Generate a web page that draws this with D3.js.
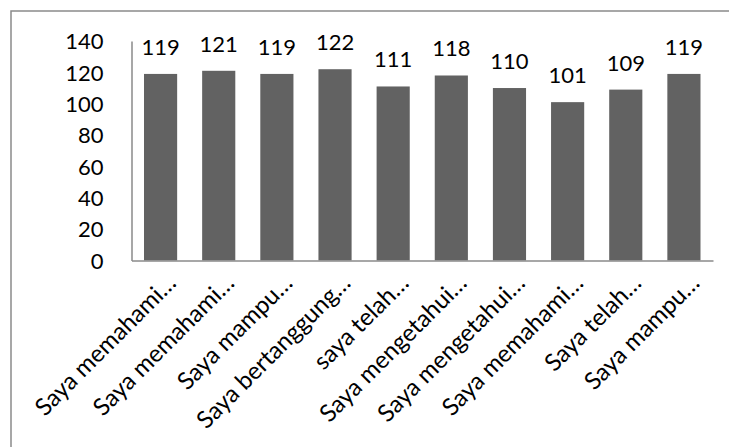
<!DOCTYPE html>
<html>
<head>
<meta charset="utf-8">
<script src="https://cdn.jsdelivr.net/npm/d3@7"></script>
<style>
  html, body { margin: 0; padding: 0; background: #fff; }
  svg { display: block; }
  text { font-family: Lato, "Open Sans", sans-serif; fill: #000; }
</style>
</head>
<body>
<script>
// Survey statements (truncated as shown on the axis) and their totals
const categories = [
  "Saya memahami…",
  "Saya memahami…",
  "Saya mampu…",
  "Saya bertanggung…",
  "saya telah…",
  "Saya mengetahui…",
  "Saya mengetahui…",
  "Saya memahami…",
  "Saya telah…",
  "Saya mampu…"
];
const values = [119, 121, 119, 122, 111, 118, 110, 101, 109, 119];
const yTicks = [0, 20, 40, 60, 80, 100, 120, 140];

const W = 729, H = 447;
const plot = { left: 131.5, right: 713, top: 41, bottom: 260.5 };
const FONT = "Lato, 'Open Sans', sans-serif";

const svg = d3.select("body").append("svg")
  .attr("width", W).attr("height", H);

// chart frame
svg.append("rect")
  .attr("x", 11).attr("y", 11)
  .attr("width", W + 10).attr("height", H + 10)
  .attr("fill", "none")
  .attr("stroke", "#8a8a8a")
  .attr("stroke-width", 1.5);

const x = d3.scaleBand()
  .domain(d3.range(categories.length))
  .range([plot.left, plot.right])
  .paddingInner(0.43)
  .paddingOuter(0.215);

const y = d3.scaleLinear()
  .domain([0, 140])
  .range([plot.bottom, plot.top]);

// bars
svg.append("g").selectAll("rect")
  .data(values)
  .join("rect")
  .attr("x", (d, i) => x(i))
  .attr("y", d => y(d))
  .attr("width", x.bandwidth())
  .attr("height", d => y(0) - y(d))
  .attr("fill", "#626262");

// value labels
svg.append("g").selectAll("text")
  .data(values)
  .join("text")
  .attr("x", (d, i) => x(i) + x.bandwidth() / 2)
  .attr("y", d => y(d) - 19)
  .attr("text-anchor", "middle")
  .attr("font-size", 22)
  .text(d => d);

// y axis
const yAxis = d3.axisLeft(y).tickValues(yTicks).tickSize(0).tickPadding(0);
const gy = svg.append("g")
  .attr("transform", `translate(${plot.left},0)`)
  .call(yAxis);
gy.select(".domain").attr("stroke", "#8a8a8a").attr("stroke-width", 1.5);
gy.selectAll(".tick text")
  .attr("x", -28)
  .attr("dy", "0.35em")
  .attr("font-size", 22)
  .attr("font-family", FONT)
  .attr("fill", "#000");

// x axis with slanted category labels
const xAxis = d3.axisBottom(x).tickSize(0).tickFormat(i => categories[i]);
const gx = svg.append("g")
  .attr("transform", `translate(0,${plot.bottom})`)
  .call(xAxis);
gx.select(".domain").attr("stroke", "#8a8a8a").attr("stroke-width", 1.5);
gx.selectAll(".tick text")
  .attr("font-size", 24)
  .attr("font-family", FONT)
  .attr("fill", "#000")
  .attr("text-anchor", "end")
  .attr("y", 0)
  .attr("dy", 0)
  .attr("transform", "translate(17,24) rotate(-45)");
</script>
</body>
</html>
